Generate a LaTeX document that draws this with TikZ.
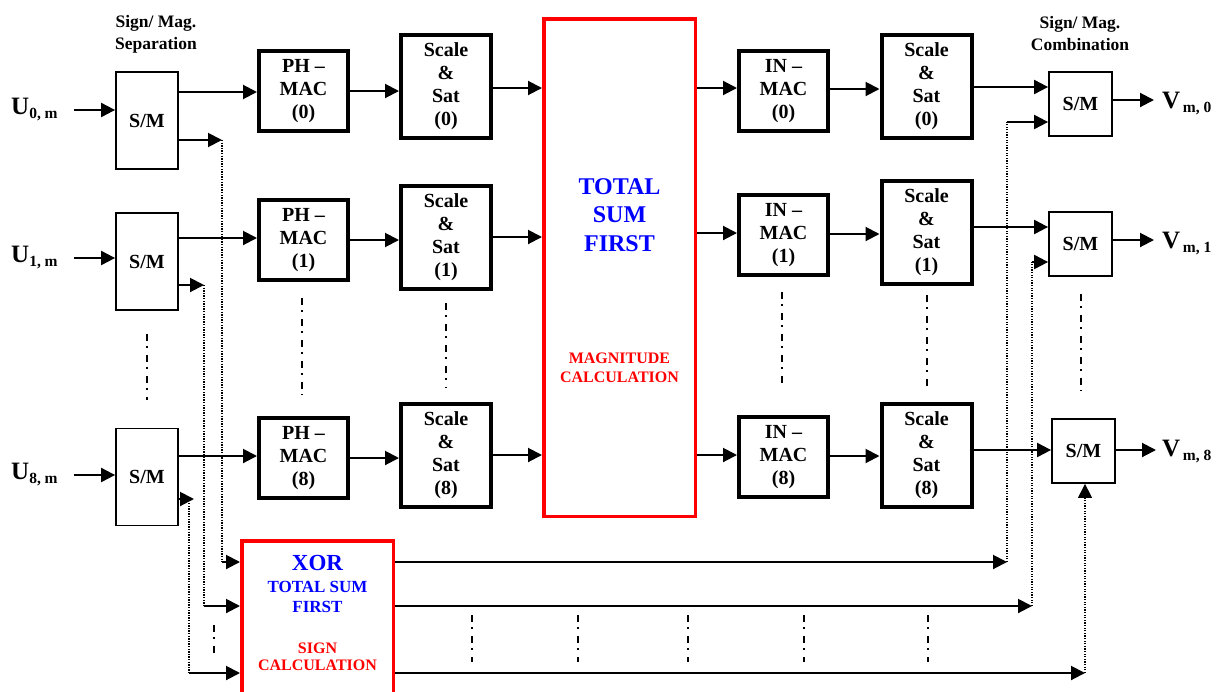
\documentclass[tikz,border=0pt]{standalone}
\usepackage{fontspec}
\setmainfont{Liberation Serif}
\usetikzlibrary{arrows.meta}
\definecolor{rd}{RGB}{255,0,0}
\definecolor{bl}{RGB}{0,0,255}
\newcommand{\biglab}[2]{{\fontsize{25}{25}\selectfont #1}\raisebox{-4pt}{\fontsize{15.5}{15.5}\selectfont #2}}
\begin{document}
\begin{tikzpicture}[x=1pt,y=-1pt,
  every node/.style={font=\bfseries\fontsize{20}{23}\selectfont, align=center, inner sep=0pt},
  phbox/.style={draw, line width=4pt, minimum width=89pt, minimum height=80pt},
  ssbox/.style={draw, line width=4pt, minimum width=90pt, minimum height=103pt},
  smlbox/.style={draw, line width=1.8pt, minimum width=62pt, minimum height=97pt},
  smrbox/.style={draw, line width=1.8pt, minimum width=63pt, minimum height=64pt},
  redbox/.style={draw=rd, line width=3.5pt},
  conn/.style={line width=2pt, -{Triangle[length=14pt,width=14pt]}},
  dotl/.style={line width=1.3pt, dash pattern=on 1.3pt off 1.3pt},
  dd/.style={line width=2pt, dash pattern=on 7pt off 5pt on 1.5pt off 7.5pt},
  toplab/.style={font=\bfseries\fontsize{17.5}{22}\selectfont}
]
\useasboundingbox (0,0) rectangle (1220,691);
\clip (0,0) rectangle (1220,691);
\fill[white] (0,0) rectangle (1220,691);

% top labels
\node[toplab] (seplab) at (156,34) {Sign/ Mag.\\Separation};
\node[toplab] (comblab) at (1080,34) {Sign/ Mag.\\Combination};

% left S/M boxes
\node[smlbox] (SMl0) at (147,120.5) {S/M};
\node[smlbox] (SMl1) at (147,261.5) {S/M};
\node[smlbox] (SMl8) at (147,477) {S/M};

% input labels
\node[anchor=west] (U0) at (11,110) {\biglab{U}{0, m}};
\node[anchor=west] (U1) at (11,258) {\biglab{U}{1, m}};
\node[anchor=west] (U8) at (11,475) {\biglab{U}{8, m}};

% PH-MAC
\node[phbox] (PH0) at (303.5,91) {PH --\\MAC\\(0)};
\node[phbox] (PH1) at (303.5,240) {PH --\\MAC\\(1)};
\node[phbox] (PH8) at (303.5,458) {PH --\\MAC\\(8)};

% Scale & Sat left
\node[ssbox] (SS0) at (446,86.5) {Scale\\\&\\Sat\\(0)};
\node[ssbox] (SS1) at (446,237) {Scale\\\&\\Sat\\(1)};
\node[ssbox] (SS8) at (446,455) {Scale\\\&\\Sat\\(8)};

% big red box
\node[redbox, minimum width=151.5pt, minimum height=497.5pt] (BIG) at (619.5,267.5) {};
\node[text=bl, font=\bfseries\fontsize{24}{28.5}\selectfont] (tsf) at (619.5,215) {TOTAL\\SUM\\FIRST};
\node[text=rd, font=\bfseries\fontsize{16}{19}\selectfont] (mag) at (619.5,368) {MAGNITUDE\\CALCULATION};

% IN-MAC
\node[phbox] (IN0) at (783.5,91) {IN --\\MAC\\(0)};
\node[phbox] (IN1) at (783.5,235) {IN --\\MAC\\(1)};
\node[phbox] (IN8) at (783.5,457) {IN --\\MAC\\(8)};

% Scale & Sat right
\node[ssbox] (SR0) at (926.5,86.5) {Scale\\\&\\Sat\\(0)};
\node[ssbox] (SR1) at (926.5,232) {Scale\\\&\\Sat\\(1)};
\node[ssbox] (SR8) at (926.5,455) {Scale\\\&\\Sat\\(8)};

% right S/M
\node[smrbox] (SMr0) at (1080.5,104) {S/M};
\node[smrbox] (SMr1) at (1080.5,244) {S/M};
\node[smrbox] (SMr8) at (1083.5,451) {S/M};

% output labels
\node[anchor=west] (V0) at (1162,104) {\biglab{V}{\,m, 0}};
\node[anchor=west] (V1) at (1162,244) {\biglab{V}{\,m, 1}};
\node[anchor=west] (V8) at (1162,452) {\biglab{V}{\,m, 8}};

% XOR box
\node[redbox, minimum width=151.5pt, minimum height=170pt] (XOR) at (317.5,626) {};
\node[text=bl, font=\bfseries\fontsize{23}{23}\selectfont] (xor1) at (317.5,563) {XOR};
\node[text=bl, font=\bfseries\fontsize{17}{19.5}\selectfont] (xor2) at (317.5,597) {TOTAL SUM\\FIRST};
\node[text=rd, font=\bfseries\fontsize{16}{17.5}\selectfont] (xor3) at (317.5,657) {SIGN\\CALCULATION};

% coordinates
\coordinate (s0) at (222,140);
\coordinate (s1) at (204,285);
\coordinate (s8) at (194,499);
\coordinate (c0) at (222,562);
\coordinate (c1) at (204,606);
\coordinate (c8) at (189,673);
\coordinate (d8) at (189,503);
\coordinate (e0) at (1007,562);
\coordinate (e1) at (1032,606);
\coordinate (e8) at (1085,673);
\coordinate (f0) at (1007,122);
\coordinate (f1) at (1032,262);
\coordinate (vo0) at (1154,100);
\coordinate (vo1) at (1154,240);
\coordinate (vo8) at (1156,450);

% inputs
\draw[conn] ([xshift=16pt]U0.east) -- (U0.east -| SMl0.west);
\draw[conn] ([xshift=16pt]U1.east) -- (U1.east -| SMl1.west);
\draw[conn] ([xshift=16pt]U8.east) -- (U8.east -| SMl8.west);

% magnitude path row 0
\draw[conn] (SMl0.east |- 0,92) -- (PH0.west |- 0,92);
\draw[conn] (PH0.east |- 0,91) -- (SS0.west |- 0,91);
\draw[conn] (SS0.east |- 0,88) -- (BIG.west |- 0,88);
\draw[conn] (BIG.east |- 0,88) -- (IN0.west |- 0,88);
\draw[conn] (IN0.east |- 0,89) -- (SR0.west |- 0,89);
\draw[conn] (SR0.east |- 0,87) -- (SMr0.west |- 0,87);
\draw[conn] (SMr0.east |- vo0) -- (vo0);
% row 1
\draw[conn] (SMl1.east |- 0,238) -- (PH1.west |- 0,238);
\draw[conn] (PH1.east |- 0,240) -- (SS1.west |- 0,240);
\draw[conn] (SS1.east |- 0,237) -- (BIG.west |- 0,237);
\draw[conn] (BIG.east |- 0,233) -- (IN1.west |- 0,233);
\draw[conn] (IN1.east |- 0,234) -- (SR1.west |- 0,234);
\draw[conn] (SR1.east |- 0,227) -- (SMr1.west |- 0,227);
\draw[conn] (SMr1.east |- vo1) -- (vo1);
% row 8
\draw[conn] (SMl8.east |- 0,456) -- (PH8.west |- 0,456);
\draw[conn] (PH8.east |- 0,458) -- (SS8.west |- 0,458);
\draw[conn] (SS8.east |- 0,455) -- (BIG.west |- 0,455);
\draw[conn] (BIG.east |- 0,455) -- (IN8.west |- 0,455);
\draw[conn] (IN8.east |- 0,456) -- (SR8.west |- 0,456);
\draw[conn] (SR8.east |- 0,450) -- (SMr8.west |- 0,450);
\draw[conn] (SMr8.east |- vo8) -- (vo8);

% sign paths left
\draw[conn] (SMl0.east |- s0) -- (s0);
\draw[conn] (SMl1.east |- s1) -- (s1);
\draw[conn] (SMl8.east |- s8) -- (s8);
\draw[dotl] (s0) -- (c0);
\draw[dotl] (s1) -- (c1);
\draw[dotl] (d8) -- (c8);
\draw[conn] (c0) -- (c0 -| XOR.west);
\draw[conn] (c1) -- (c1 -| XOR.west);
\draw[conn] (c8) -- (c8 -| XOR.west);

% sign paths right
\draw[conn] (XOR.east |- e0) -- (e0);
\draw[conn] (XOR.east |- e1) -- (e1);
\draw[conn] (XOR.east |- e8) -- (e8);
\draw[dotl] (e0) -- (f0);
\draw[dotl] (e1) -- (f1);
\draw[conn] (f0) -- (f0 -| SMr0.west);
\draw[conn] (f1) -- (f1 -| SMr1.west);
\draw[dotl, -{Triangle[length=14pt,width=14pt]}] (e8) -- (e8 |- SMr8.south);

% dash-dot ellipsis marks
\draw[dd] (147,334) -- (147,400);
\draw[dd] (302,298) -- (302,395);
\draw[dd] (446,303) -- (446,388);
\draw[dd] (782,292) -- (782,388);
\draw[dd] (927,295) -- (927,390);
\draw[dd] (1081,294) -- (1081,391);
\draw[dd] (214,625) -- (214,655);
\foreach \x in {472,578,688,804,928} \draw[dd] (\x,615) -- (\x,662);
\end{tikzpicture}
\end{document}
